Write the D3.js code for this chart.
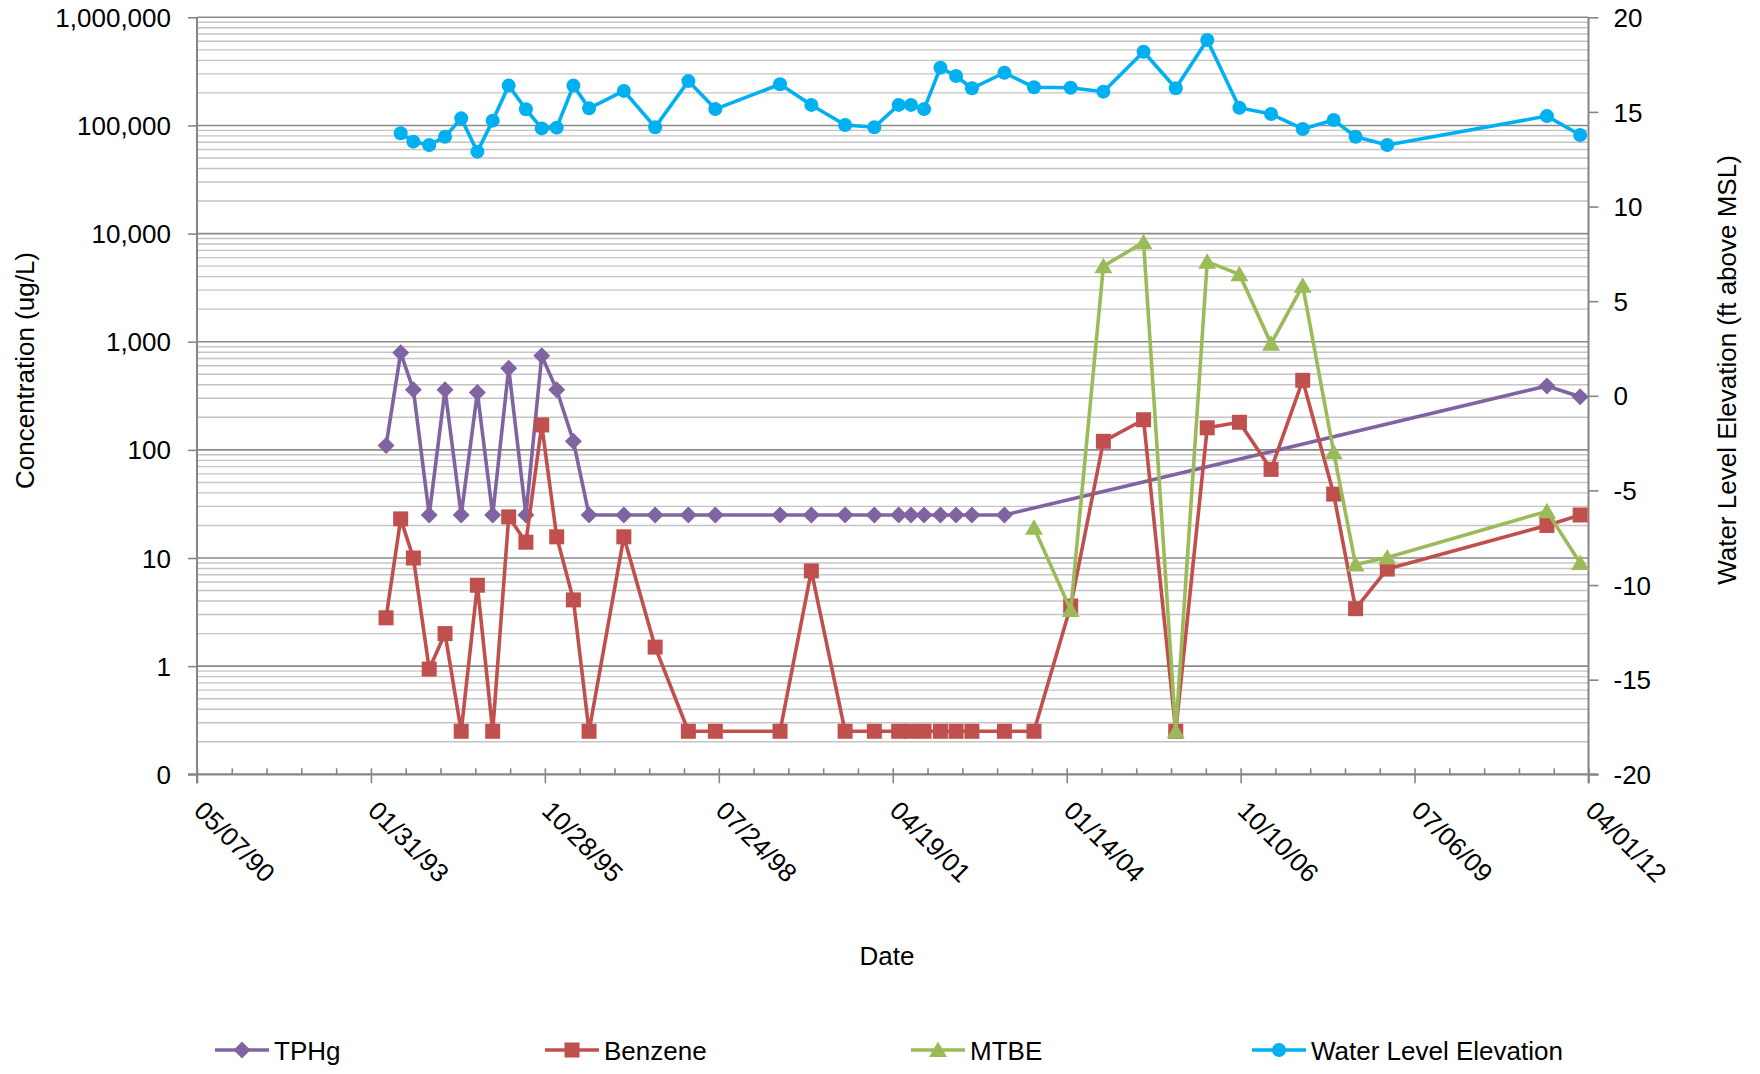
<!DOCTYPE html>
<html><head><meta charset="utf-8">
<script src="https://cdn.jsdelivr.net/npm/d3@7"></script>
<style>
body{margin:0;background:#fff}
svg{display:block}
text{font-family:"Liberation Sans",Arial,sans-serif;fill:#000}
</style>
</head><body>
<svg id="c" width="1760" height="1074"></svg>
<script>
// ---------- data ----------
const dates = ["1993-04-28","1993-07-21","1993-10-02","1994-01-01","1994-04-02","1994-07-04","1994-10-05","1995-01-01","1995-04-03","1995-07-11","1995-10-10","1996-01-04","1996-04-09","1996-07-08","1997-01-24","1997-07-23","1998-01-30","1998-07-04","1999-07-11","2000-01-07","2000-07-19","2001-01-03","2001-05-23","2001-08-02","2001-10-16","2002-01-18","2002-04-18","2002-07-18","2003-01-21","2003-07-10","2004-02-06","2004-08-12","2005-03-31","2005-10-02","2006-04-01","2006-10-03","2007-04-03","2007-10-02","2008-03-28","2008-08-01","2009-01-30","2011-08-06","2012-02-13"];
const tphg = [110,790,360,25,360,25,340,25,570,25,740,360,120,25,25,25,25,25,25,25,25,25,25,25,25,25,25,25,25,null,null,null,null,null,null,null,null,null,null,null,null,390,310];
const benzene = [2.8,23,10,0.94,2.0,0.25,5.6,0.25,24,14,170,15.7,4.1,0.25,15.7,1.5,0.25,0.25,0.25,7.6,0.25,0.25,0.25,0.25,0.25,0.25,0.25,0.25,0.25,0.25,3.6,120,190,0.25,160,180,66,440,39,3.4,7.9,20,25];
const mtbe = [null,null,null,null,null,null,null,null,null,null,null,null,null,null,null,null,null,null,null,null,null,null,null,null,null,null,null,null,null,19,3.3,5000,8300,0.25,5500,4200,960,3300,95,8.7,10.1,27,9.0];
const waterLevel = [null,13.87,13.43,13.25,13.69,14.66,12.90,14.54,16.39,15.14,14.13,14.17,16.39,15.19,16.11,14.19,16.63,15.15,16.46,15.37,14.31,14.19,15.37,15.37,15.15,17.34,16.90,16.25,17.07,16.30,16.28,16.07,18.18,16.25,18.80,15.22,14.89,14.10,14.57,13.69,13.25,14.78,13.78];

const xTickLabels = ["05/07/90","01/31/93","10/28/95","07/24/98","04/19/01","01/14/04","10/10/06","07/06/09","04/01/12"];
const yTickValues = [0.1,1,10,100,1000,10000,100000,1000000];
const yTickLabels = ["0","1","10","100","1,000","10,000","100,000","1,000,000"];
const y2TickValues = [-20,-15,-10,-5,0,5,10,15,20];
const seriesNames = ["TPHg","Benzene","MTBE","Water Level Elevation"];
const seriesColors = ["#8064A2","#C0504D","#9BBB59","#00B0F0"];
const seriesMarkers = ["diamond","square","triangle","circle"];
const yTitle = "Concentration (ug/L)";
const y2Title = "Water Level Elevation (ft above MSL)";
const xTitle = "Date";

// ---------- layout ----------
const L = 197, R = 1588.5, T = 17.3, B = 774.3;
const svg = d3.select("#c");
const parse = d3.utcParse("%Y-%m-%d");
const parseTick = d3.utcParse("%m/%d/%y");
const xStart = parseTick(xTickLabels[0]), xEnd = parseTick(xTickLabels[xTickLabels.length-1]);
const x = d3.scaleUtc().domain([xStart, xEnd]).range([L, R]);
const y = d3.scaleLog().domain([0.1, 1e6]).range([B, T]);
const y2 = d3.scaleLinear().domain([-20, 20]).range([B, T]);

// ---------- gridlines ----------
const minorVals = [];
d3.range(-1, 6).forEach(k => d3.range(2, 10).forEach(m => minorVals.push(m * Math.pow(10, k))));
const grid = svg.append("g");
grid.selectAll("line.minor").data(minorVals).join("line")
  .attr("x1", L).attr("x2", R)
  .attr("y1", d => y(d)).attr("y2", d => y(d))
  .attr("stroke", "#C4C4C4").attr("stroke-width", 1.4);
grid.selectAll("line.major").data(yTickValues.slice(1)).join("line")
  .attr("x1", L).attr("x2", R)
  .attr("y1", d => y(d)).attr("y2", d => y(d))
  .attr("stroke", "#8A8A8A").attr("stroke-width", 1.6);

// ---------- axes ----------
const axisColor = "#868686";
function styleAxis(g){
  g.select(".domain").remove();
  g.selectAll(".tick line").attr("stroke", axisColor).attr("stroke-width", 1.6);
  g.selectAll(".tick text").attr("font-size", 26).attr("fill", "#000")
   .style("font-family", '"Liberation Sans", Arial, sans-serif');
}
// left
const gl = svg.append("g").attr("transform", `translate(${L},0)`)
  .call(d3.axisLeft(y).tickValues(yTickValues).tickFormat((d,i) => yTickLabels[i])
    .tickSizeInner(9).tickSizeOuter(0).tickPadding(17));
styleAxis(gl);
gl.selectAll(".tick text").attr("dy", "0.35em");
// right
const gr = svg.append("g").attr("transform", `translate(${R},0)`)
  .call(d3.axisRight(y2).tickValues(y2TickValues).tickFormat(d => String(d))
    .tickSizeInner(10).tickSizeOuter(0).tickPadding(15));
styleAxis(gr);
gr.selectAll(".tick text").attr("dy", "0.35em");
// bottom minor (inside)
const minorDates = d3.range(0, d3.utcDay.count(xStart, xEnd) + 1, 200).map(d => d3.utcDay.offset(xStart, d));
const gbm = svg.append("g").attr("transform", `translate(0,${B})`)
  .call(d3.axisBottom(x).tickValues(minorDates).tickFormat("").tickSizeInner(-6).tickSizeOuter(0));
styleAxis(gbm);
// bottom major
const majorDates = xTickLabels.map(parseTick);
const gb = svg.append("g").attr("transform", `translate(0,${B})`)
  .call(d3.axisBottom(x).tickValues(majorDates).tickFormat((d,i) => xTickLabels[i])
    .tickSizeInner(9).tickSizeOuter(0));
styleAxis(gb);
gb.selectAll(".tick text").attr("x", null).attr("y", null).attr("dy", null)
  .attr("text-anchor", "start").attr("transform", "translate(-5,38) rotate(45)");

// axis lines
svg.append("line").attr("x1", L).attr("x2", L).attr("y1", T).attr("y2", B + 9)
  .attr("stroke", axisColor).attr("stroke-width", 2);
svg.append("line").attr("x1", R).attr("x2", R).attr("y1", T).attr("y2", B + 9)
  .attr("stroke", axisColor).attr("stroke-width", 2);
svg.append("line").attr("x1", L - 9).attr("x2", R + 10).attr("y1", B).attr("y2", B)
  .attr("stroke", axisColor).attr("stroke-width", 2.2);

// ---------- titles ----------
svg.append("text").attr("transform", "translate(33.5,370.5) rotate(-90)")
  .attr("text-anchor", "middle").attr("font-size", 26).text(yTitle);
svg.append("text").attr("transform", "translate(1736,370) rotate(-90)")
  .attr("text-anchor", "middle").attr("font-size", 26).text(y2Title);
svg.append("text").attr("x", 887).attr("y", 965)
  .attr("text-anchor", "middle").attr("font-size", 26).text(xTitle);

// ---------- markers ----------
function drawMarker(sel, type, color){
  if (type === "diamond") {
    sel.append("path").attr("d", "M0,-8.5L8.5,0L0,8.5L-8.5,0Z").attr("fill", color);
  } else if (type === "square") {
    sel.append("rect").attr("x", -7.5).attr("y", -7.5).attr("width", 15).attr("height", 15).attr("fill", color);
  } else if (type === "triangle") {
    sel.append("path").attr("d", "M0,-8.5L9,7L-9,7Z").attr("fill", color);
  } else {
    sel.append("circle").attr("r", 7).attr("fill", color);
  }
}

// ---------- series ----------
const seriesVals = [tphg, benzene, mtbe, waterLevel];
const seriesScale = [y, y, y, y2];
seriesVals.forEach((vals, si) => {
  const pts = dates.map((d, i) => ({date: parse(d), v: vals[i]})).filter(p => p.v != null);
  const ys = seriesScale[si];
  const line = d3.line().x(p => x(p.date)).y(p => ys(p.v));
  const g = svg.append("g");
  g.append("path").datum(pts).attr("d", line).attr("fill", "none")
    .attr("stroke", seriesColors[si]).attr("stroke-width", 3.6).attr("stroke-linejoin", "round");
  g.selectAll("g.m").data(pts).join("g")
    .attr("transform", p => `translate(${x(p.date)},${ys(p.v)})`)
    .each(function(){ drawMarker(d3.select(this), seriesMarkers[si], seriesColors[si]); });
});

// ---------- legend ----------
const legendX = [215, 545, 911, 1252];
const legendY = 1050;
seriesNames.forEach((name, i) => {
  const g = svg.append("g").attr("transform", `translate(${legendX[i]},${legendY})`);
  g.append("line").attr("x1", 0).attr("x2", 54).attr("y1", 0).attr("y2", 0)
    .attr("stroke", seriesColors[i]).attr("stroke-width", 3.6);
  drawMarker(g.append("g").attr("transform", "translate(27,0)"), seriesMarkers[i], seriesColors[i]);
  g.append("text").attr("x", 59).attr("y", 10).attr("font-size", 26).text(name);
});
</script>
</body></html>
